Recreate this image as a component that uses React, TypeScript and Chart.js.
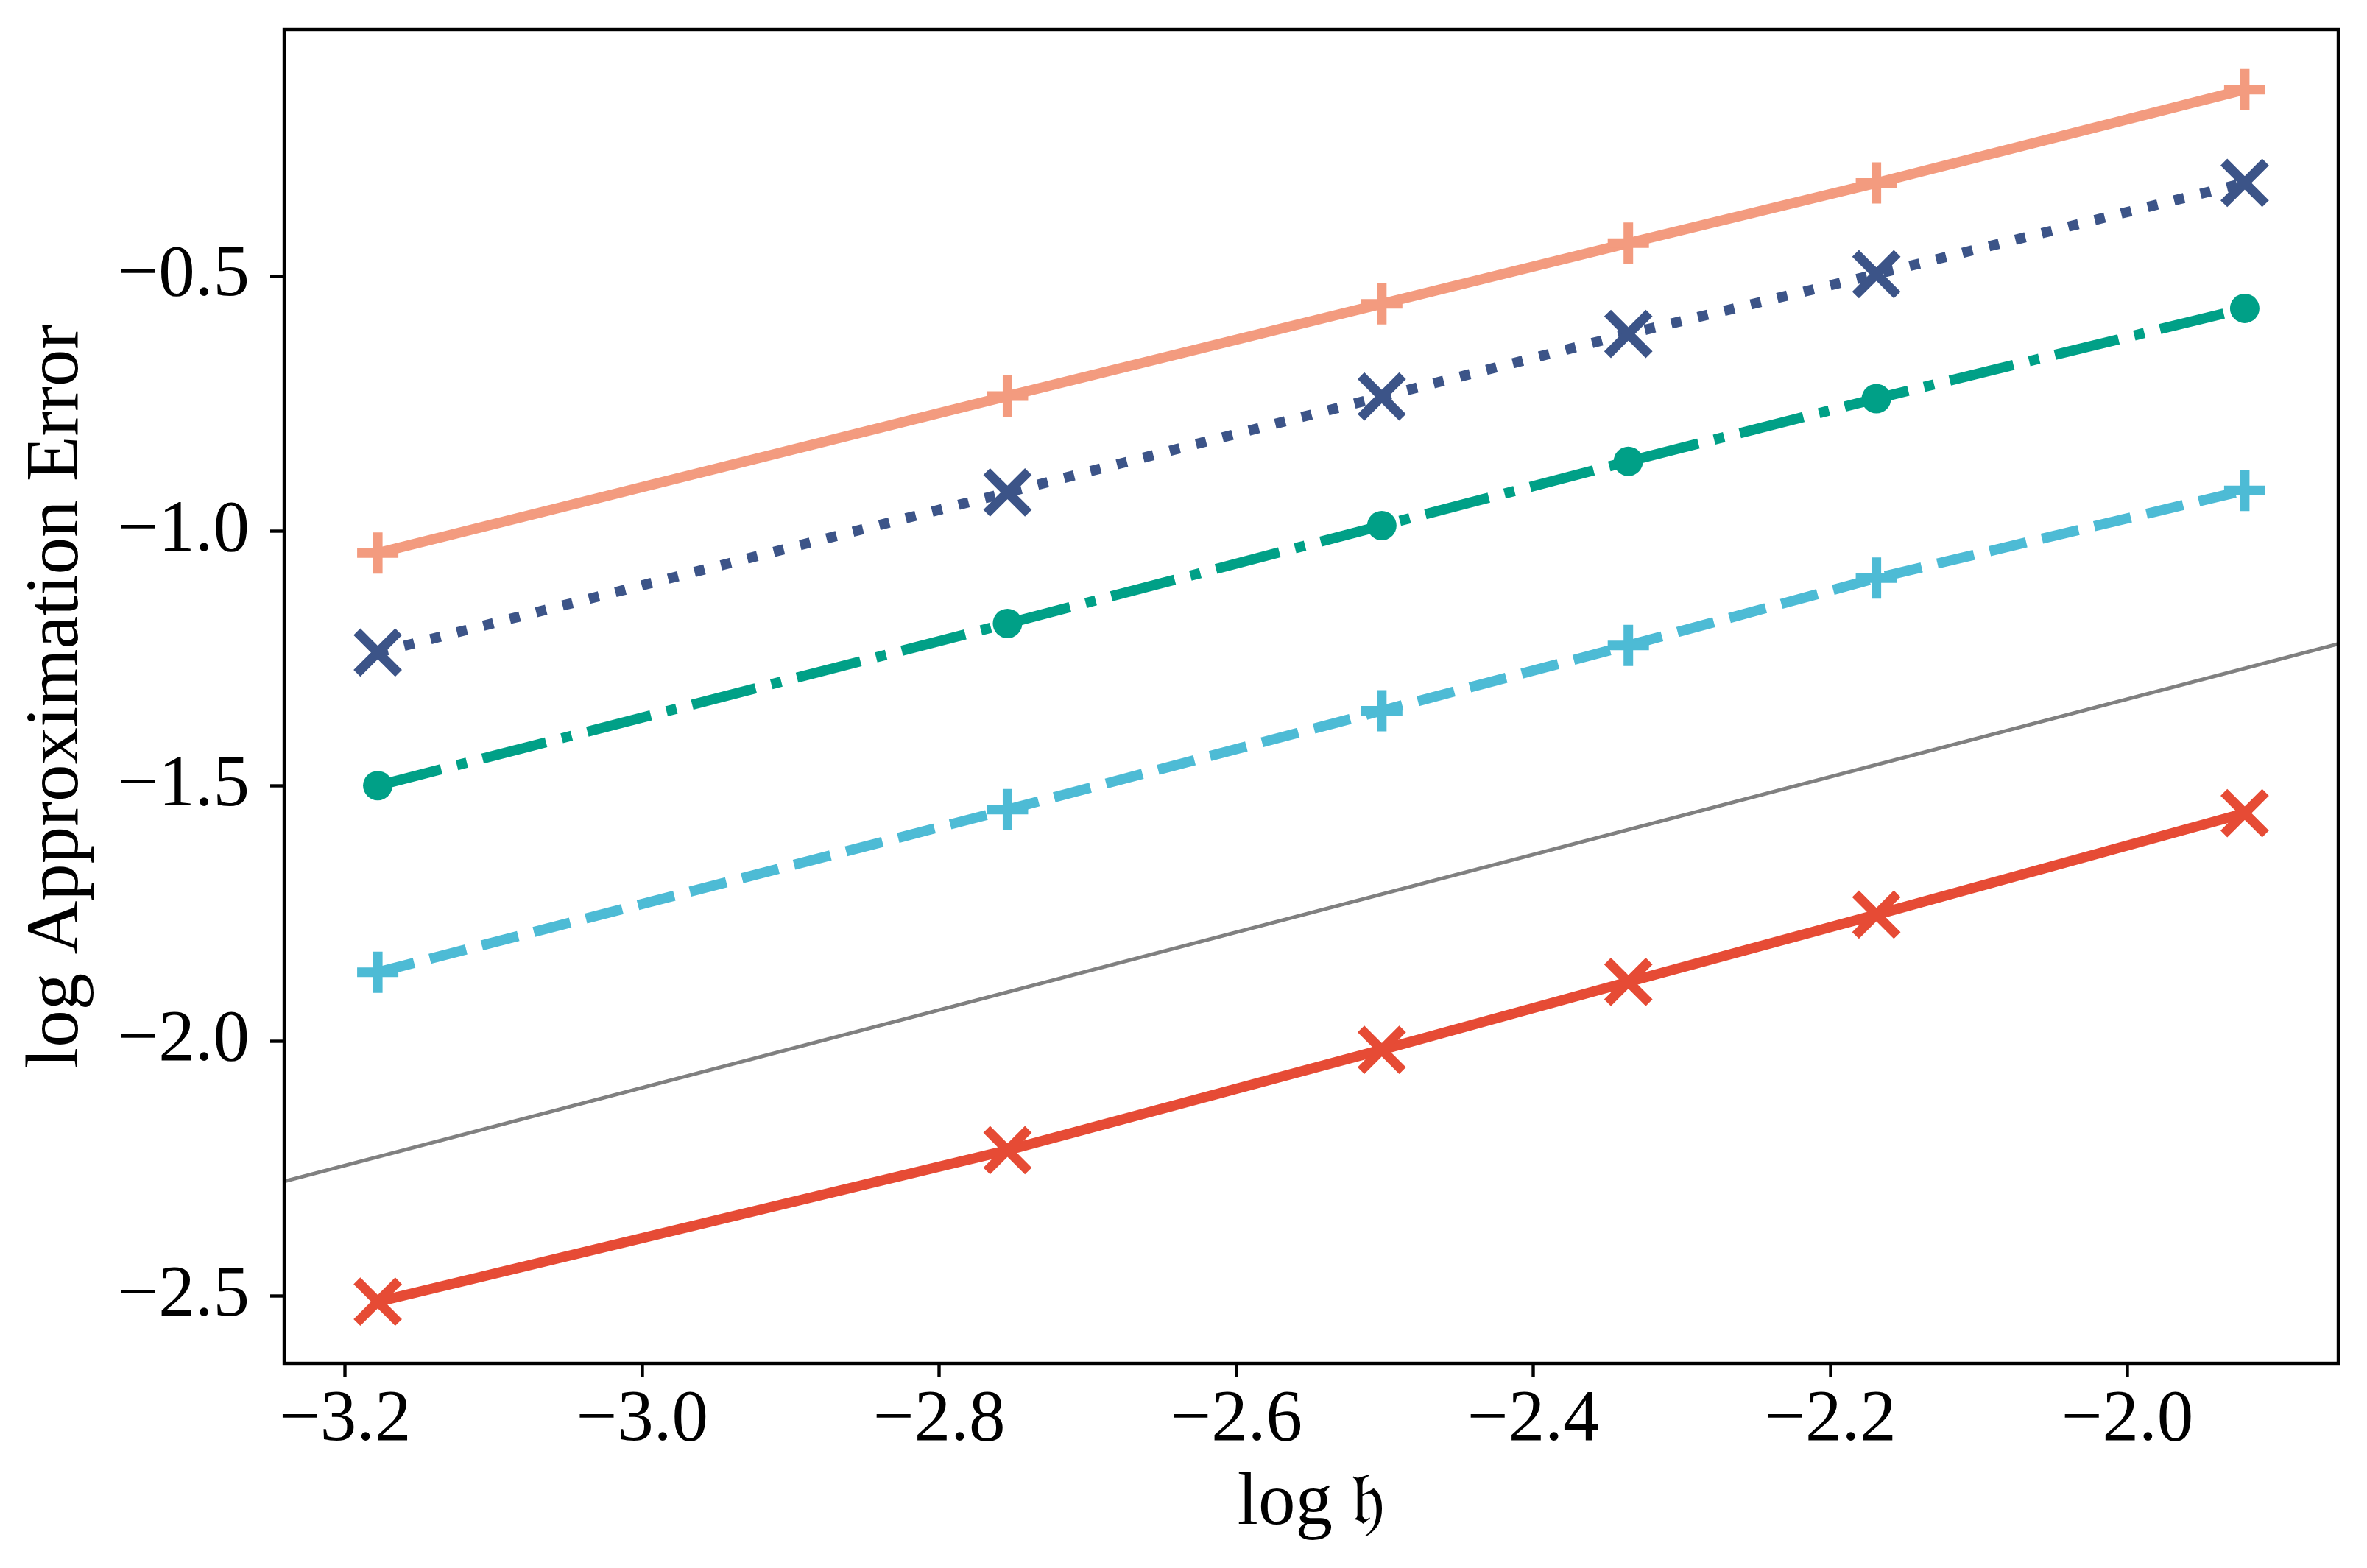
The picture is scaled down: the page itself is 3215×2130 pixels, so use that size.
import React, { useEffect, useRef } from "react";
import { Chart, registerables } from "chart.js";

Chart.register(...registerables);

// ---- data ----
const logH = [-3.178, -2.754, -2.502, -2.336, -2.169, -1.921];

const salmonSeries = [-1.043, -0.735, -0.554, -0.435, -0.317, -0.134];
const navySeries = [-1.238, -0.924, -0.736, -0.613, -0.496, -0.317];
const greenSeries = [-1.499, -1.181, -0.989, -0.863, -0.74, -0.563];
const cyanSeries = [-1.865, -1.546, -1.352, -1.224, -1.092, -0.92];
const redSeries = [-2.511, -2.214, -2.017, -1.884, -1.752, -1.553];

const refLineX = [-3.241, -1.858];
const refLineY = [-2.275, -1.221];

const xTicks = [-3.2, -3.0, -2.8, -2.6, -2.4, -2.2, -2.0];
const yTicks = [-2.5, -2.0, -1.5, -1.0, -0.5];

const xRange = [-3.241, -1.858];
const yRange = [-2.632, -0.016];

const FONT = "'Liberation Serif', 'Times New Roman', serif";

const fmt = (v: number) => (v < 0 ? "\u2212" : "") + Math.abs(v).toFixed(1);

const pts = (ys: number[]) => logH.map((x, i) => ({ x, y: ys[i] }));

const frame = {
  id: "frame",
  afterDraw(chart: any) {
    const { ctx, chartArea } = chart;
    ctx.save();
    ctx.strokeStyle = "#000";
    ctx.lineWidth = 4.4;
    ctx.strokeRect(
      chartArea.left,
      chartArea.top,
      chartArea.right - chartArea.left,
      chartArea.bottom - chartArea.top
    );
    ctx.restore();
  },
};

const zeroPad = (s: any) => {
  s.paddingTop = 0;
  s.paddingBottom = 0;
  s.paddingLeft = 0;
  s.paddingRight = 0;
};

export default function App() {
  const ref = useRef<HTMLCanvasElement | null>(null);

  useEffect(() => {
    if (!ref.current) return;
    const LW = 13.9;
    const chart = new Chart(ref.current, {
      type: "line",
      data: {
        datasets: [
          {
            label: "red",
            data: pts(redSeries),
            borderColor: "#E64B35",
            borderWidth: LW,
            pointStyle: "crossRot",
            pointRadius: 40,
            pointBorderWidth: 13,
            pointBorderColor: "#E64B35",
            pointBackgroundColor: "#E64B35",
            fill: false,
            tension: 0,
          },
          {
            label: "cyan",
            data: pts(cyanSeries),
            borderColor: "#4DBBD5",
            borderWidth: LW,
            borderDash: [51, 22],
            pointStyle: "cross",
            pointRadius: 28,
            pointBorderWidth: 13,
            pointBorderColor: "#4DBBD5",
            pointBackgroundColor: "#4DBBD5",
            fill: false,
            tension: 0,
          },
          {
            label: "green",
            data: pts(greenSeries),
            borderColor: "#00A087",
            borderWidth: LW,
            borderDash: [89, 22, 14, 22],
            pointStyle: "circle",
            pointRadius: 20,
            pointBorderWidth: 0,
            pointBackgroundColor: "#00A087",
            pointBorderColor: "#00A087",
            fill: false,
            tension: 0,
          },
          {
            label: "navy",
            data: pts(navySeries),
            borderColor: "#3C5488",
            borderWidth: LW,
            borderDash: [14, 23],
            pointStyle: "crossRot",
            pointRadius: 40,
            pointBorderWidth: 13,
            pointBorderColor: "#3C5488",
            pointBackgroundColor: "#3C5488",
            fill: false,
            tension: 0,
          },
          {
            label: "salmon",
            data: pts(salmonSeries),
            borderColor: "#F39B7F",
            borderWidth: LW,
            pointStyle: "cross",
            pointRadius: 28,
            pointBorderWidth: 13,
            pointBorderColor: "#F39B7F",
            pointBackgroundColor: "#F39B7F",
            fill: false,
            tension: 0,
          },
          {
            label: "reference",
            data: refLineX.map((x, i) => ({ x, y: refLineY[i] })),
            borderColor: "#808080",
            borderWidth: 5,
            pointRadius: 0,
            fill: false,
            tension: 0,
          },
        ],
      },
      options: {
        animation: false,
        responsive: false,
        maintainAspectRatio: false,
        devicePixelRatio: 1,
        layout: {
          autoPadding: false,
          padding: { left: 0, right: 39, top: 40, bottom: 0 },
        },
        plugins: {
          legend: { display: false },
          tooltip: { enabled: false },
        },
        scales: {
          x: {
            type: "linear",
            min: xRange[0],
            max: xRange[1],
            afterFit: (s: any) => {
              s.height = 278;
              zeroPad(s);
            },
            afterBuildTicks: (s: any) => {
              s.ticks = xTicks.map((v) => ({ value: v }));
            },
            border: { display: false },
            grid: {
              drawOnChartArea: false,
              drawTicks: true,
              tickLength: 19,
              tickWidth: 4.4,
              tickColor: "#000",
            },
            ticks: {
              color: "#000",
              font: { family: FONT, size: 99 },
              padding: 0,
              maxRotation: 0,
              autoSkip: false,
              callback: (v: any) => fmt(Number(v)),
            },
            title: {
              display: true,
              text: "log \u{1D525}",
              color: "#000",
              font: { family: FONT, size: 101 },
              padding: { top: 0, bottom: 26 },
            },
          },
          y: {
            type: "linear",
            min: yRange[0],
            max: yRange[1],
            afterFit: (s: any) => {
              s.width = 386;
              zeroPad(s);
            },
            afterBuildTicks: (s: any) => {
              s.ticks = yTicks.map((v) => ({ value: v }));
            },
            border: { display: false },
            grid: {
              drawOnChartArea: false,
              drawTicks: true,
              tickLength: 19,
              tickWidth: 4.4,
              tickColor: "#000",
            },
            ticks: {
              color: "#000",
              font: { family: FONT, size: 99 },
              padding: 28,
              autoSkip: false,
              callback: (v: any) => fmt(Number(v)),
            },
            title: {
              display: true,
              text: "log Approximation Error",
              color: "#000",
              font: { family: FONT, size: 101 },
              padding: { top: 18, bottom: 0 },
            },
          },
        },
      },
      plugins: [frame],
    });
    return () => chart.destroy();
  }, []);

  return (
    <div
      style={{
        position: "fixed",
        left: 0,
        top: 0,
        width: 3215,
        height: 2130,
        background: "#fff",
      }}
    >
      <canvas
        ref={ref}
        width={3215}
        height={2130}
        style={{ width: 3215, height: 2130, display: "block" }}
      />
    </div>
  );
}
